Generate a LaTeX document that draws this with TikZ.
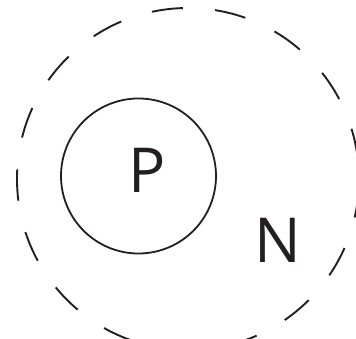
\documentclass[tikz,border=0pt]{standalone}
\usepackage{fontspec}
\setmainfont{Open Sans}
\usepackage{tikz}
\usetikzlibrary{positioning}
\definecolor{inkblack}{RGB}{35,31,32}

\begin{document}
\begin{tikzpicture}[x=1pt,y=1pt,
  shell/.style={inkblack,line width=1.9pt,dash pattern=on 31.3pt off 32.2pt,dash phase=43.8pt},
  core/.style={inkblack,line width=1.8pt},
  letter/.style={inner sep=0pt,text=inkblack,font=\fontsize{62}{62}\selectfont}]
  \useasboundingbox (0,0) rectangle (356,339);
  % Outer dashed shell
  \draw[shell] (188,160) circle (171);
  % Inner solid circle
  \draw[core] (138.5,163) circle (77.5);
  % Labels
  \node[letter] (p) at (147.5,169) {P};
  \node[letter] (n) at (277.5,99) {N};
\end{tikzpicture}
\end{document}
